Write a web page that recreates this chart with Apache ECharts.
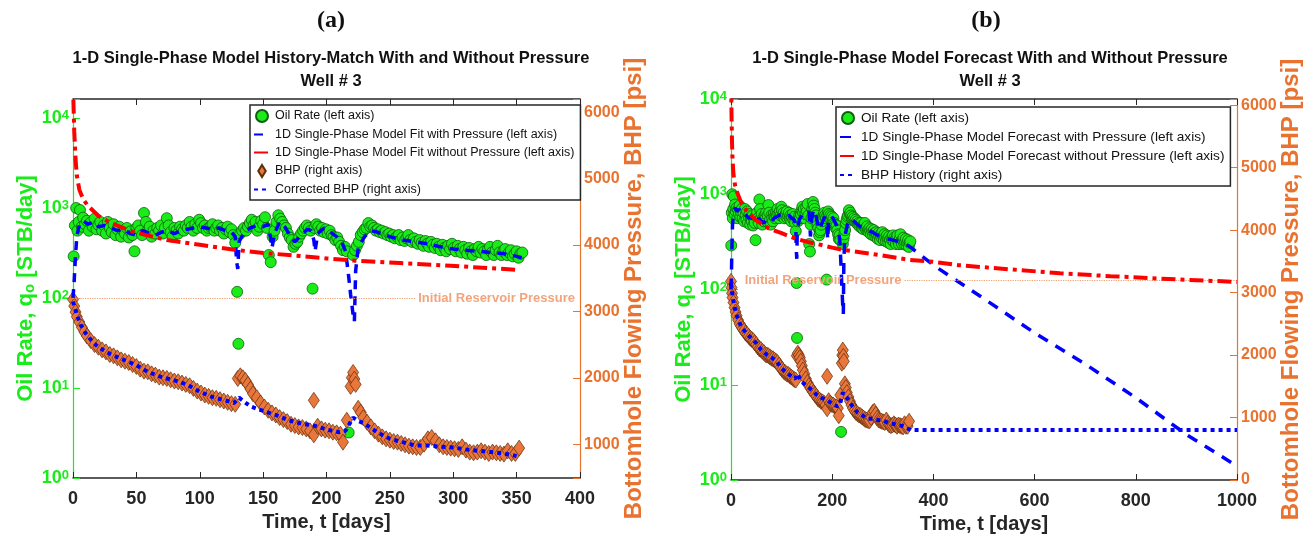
<!DOCTYPE html>
<html>
<head>
<meta charset="utf-8">
<script src="https://cdn.jsdelivr.net/npm/echarts@6/dist/echarts.min.js"></script>
<style>
html, body { margin: 0; padding: 0; background: #fff; }
#main { width: 1305px; height: 541px; }
</style>
</head>
<body>
<div id="main"></div>
<script>
// oil rate history [day, STB/day] (same data in both panels)
var oilRate = [
  [0.5,290],[1.5,640],[2.5,1000],[3.5,560],[4.5,700],[5.5,950],[7,620],[8,780],[9.5,660],[11,720],
  [12.5,560],[14,690],[15.5,620],[17,760],[18.5,580],[20,650],[21.5,700],[23,560],[24.5,640],[26,520],
  [27.5,700],[29,600],[30.5,540],[32,660],[33.5,500],[35,580],[36.5,620],[38,480],[39.5,560],[41,520],
  [42.5,600],[44,470],[45.5,550],[47,500],[48.5,330],[50,600],[51.5,640],[53,560],[54.5,500],[56,880],
  [57.5,700],[59,560],[60.5,620],[62,480],[63.5,560],[65,520],[66.5,600],[68,560],[69.5,640],[71,520],
  [72.5,600],[74,770],[75.5,640],[77,540],[78.5,480],[80,600],[81.5,560],[83,520],[84.5,620],[86,580],
  [87.5,560],[89,640],[90.5,600],[92,700],[93.5,620],[95,560],[96.5,660],[98,600],[99.5,740],[101,680],
  [102.5,600],[104,640],[105.5,560],[107,600],[108.5,620],[110,660],[111.5,560],[113,600],[114.5,640],[116,560],
  [117.5,600],[119,520],[120.5,580],[122,620],[123.5,540],[125,580],[126.5,500],[128,410],[129.5,117],[130.5,31],
  [132,520],[133.5,560],[135,600],[136.5,560],[138,620],[139.5,680],[141,740],[142.5,640],[144,700],[145.5,560],
  [147,620],[148.5,720],[150,660],[151.5,790],[153,600],[154.5,300],[156,250],[157.5,480],[159,560],[160.5,700],
  [162,830],[163.5,760],[165,700],[166.5,640],[168,600],[169.5,520],[171,470],[172.5,440],[174,370],[175.5,400],
  [177,420],[178.5,480],[180,520],[181.5,560],[183,600],[184.5,640],[186,600],[187.5,560],[189,127],[190.5,600],
  [192,660],[193.5,620],[195,560],[196.5,600],[198,540],[199.5,580],[201,520],[202.5,560],[204,500],[205.5,480],
  [207,440],[208.5,470],[210,420],[211.5,380],[213,340],[214.5,370],[216,330],[217.5,3.2],[221,300],[222.5,340],
  [224,380],[225.5,420],[227,500],[228.5,540],[230,580],[231.5,600],[233,680],[234.5,620],[236,640],[237.5,600],
  [239,560],[240.5,580],[242,540],[243.5,560],[245,520],[246.5,540],[248,500],[249.5,520],[251,480],[252.5,500],
  [254,460],[255.5,480],[257,500],[258.5,440],[260,470],[261.5,430],[263,460],[264.5,500],[266,440],[267.5,420],
  [269,460],[270.5,420],[272,400],[273.5,440],[275,410],[276.5,380],[278,430],[279.5,400],[281,370],[282.5,420],
  [284,390],[285.5,360],[287,400],[288.5,370],[290,340],[291.5,390],[293,360],[294.5,330],[296,380],[297.5,350],
  [299,400],[300.5,360],[302,330],[303.5,380],[305,350],[306.5,320],[308,370],[309.5,340],[311,310],[312.5,360],
  [314,330],[315.5,300],[317,350],[318.5,330],[320,370],[321.5,320],[323,350],[324.5,330],[326,300],[327.5,350],
  [329,370],[330.5,320],[332,300],[333.5,340],[335,380],[336.5,320],[338,300],[339.5,330],[341,350],[342.5,300],
  [344,320],[345.5,340],[347,290],[348.5,310],[350,330],[351.5,280],[353,310],[354.5,320]
];

// model with pressure, history part [day, STB/day]
var fitWithPressure = [
  [0,100],[1,160],[2,300],[3,480],[5,650],[8,720],[12,660],[16,700],[20,620],[25,640],[30,600],[35,560],
  [40,580],[45,520],[50,500],[55,560],[60,520],[65,500],[70,540],[75,560],[80,520],[85,560],[90,580],
  [95,600],[100,620],[105,600],[110,580],[115,600],[120,560],[125,540],[128,480],[129,260],[130,210],
  [131,420],[135,540],[140,600],[145,640],[150,620],[154,660],[156,450],[157,360],[159,520],[163,700],
  [167,620],[171,500],[175,420],[180,500],[185,580],[188,560],[190,440],[191,330],[193,520],[198,600],
  [203,540],[208,480],[212,420],[215,330],[217,200],[219,110],[221,65],[222,55],[223,200],[225,360],
  [230,480],[235,560],[240,540],[250,480],[260,440],[270,420],[280,400],[290,370],[300,350],[310,340],
  [320,330],[330,320],[340,310],[350,290],[354,280]
];
// forecast with pressure beyond history
var forecastWithPressure = [
  [370,240],[400,180],[450,120],[500,80],[600,35],[700,16.5],[800,7.3],[900,3.0],[1000,1.4]
];

// model without pressure [day, STB/day]
var fitWithoutPressure = [
  [0.3,16000],[1,7000],[2,3500],[3,2300],[5,1600],[8,1250],[12,1050],[20,820],[30,680],[48,540],
  [74,440],[100,390],[126,345],[152,315],[179,293],[200,275],[219,262],[258,245],[298,228],[352,205]
];
var forecastWithoutPressure = [
  [400,195],[450,180],[550,163],[650,148],[750,138],[850,130],[1000,120]
];

// bottomhole flowing pressure [day, psi]
var bhp = [
  [0,3180],[1,3080],[2,2990],[3,2920],[5,2840],[7,2760],[9,2690],[11,2630],[14,2560],[17,2500],
  [20,2460],[23,2420],[26,2390],[29,2350],[32,2330],[35,2300],[38,2270],[41,2250],[44,2230],[47,2200],
  [50,2170],[53,2130],[56,2100],[59,2090],[62,2060],[65,2040],[68,2010],[71,2000],[74,1990],[77,1970],
  [80,1950],[83,1940],[86,1920],[89,1900],[92,1880],[95,1840],[98,1800],[101,1770],[104,1740],[107,1720],
  [110,1700],[113,1690],[116,1670],[119,1650],[122,1630],[125,1610],[128,1600],[130,1990],[132,2030],[134,2000],
  [136,1960],[138,1900],[140,1830],[142,1760],[145,1700],[148,1620],[151,1560],[154,1510],[157,1470],[160,1440],
  [163,1400],[166,1370],[169,1340],[172,1300],[175,1280],[178,1260],[181,1250],[184,1230],[187,1200],[190,1660],
  [190,1140],[193,1270],[196,1230],[199,1210],[202,1200],[205,1180],[208,1170],[211,1150],[213,1030],[216,1360],
  [219,1870],[220,2000],[221,2080],[222,1980],[223,1900],[225,1540],[227,1480],[229,1400],[232,1330],[235,1260],
  [238,1200],[241,1150],[244,1110],[247,1080],[250,1060],[253,1040],[256,1030],[259,1010],[262,990],[265,970],
  [268,960],[271,950],[274,950],[277,1000],[280,1080],[283,1100],[286,1050],[289,990],[292,960],[295,950],
  [298,940],[301,930],[304,920],[307,960],[310,910],[313,880],[316,870],[319,880],[322,900],[325,880],
  [328,860],[331,880],[334,870],[337,860],[340,850],[343,900],[346,860],[349,860],[352,940]
];
var correctedBhp = [
  [0,3150],[3,2950],[6,2800],[10,2670],[15,2550],[20,2460],[30,2350],[40,2270],[50,2190],[60,2080],
  [70,2010],[80,1960],[90,1900],[100,1790],[110,1710],[120,1660],[127,1620],[131,1700],[135,1640],[140,1570],
  [150,1500],[160,1440],[170,1360],[180,1310],[190,1280],[200,1220],[210,1180],[215,1200],[218,1300],[221,1400],
  [225,1350],[230,1310],[240,1180],[250,1080],[260,1030],[270,980],[280,980],[290,960],[300,950],[310,920],
  [320,900],[330,880],[340,860],[350,820]
];
var bhpHistoryForecast = [[355,800],[1000,800]];

var initialPressure = 3200;

var namesA = [
  'Oil Rate (left axis)',
  '1D Single-Phase Model Fit with Pressure (left axis)',
  '1D Single-Phase Model Fit without Pressure (left axis)',
  'BHP (right axis)',
  'Corrected BHP (right axis)'
];
var namesB = [
  'Oil Rate (left axis)',
  '1D Single-Phase Model Forecast with Pressure (left axis)',
  '1D Single-Phase Model Forecast without Pressure (left axis)',
  'BHP History (right axis)'
];

var FONT = "'Liberation Sans', Arial, sans-serif";
var GREEN = '#19ec19';
var ORANGE = '#e8722e';
var DARK = '#262626';

function xBottom(grid, max, interval) {
  return {
    type: 'value', gridIndex: grid, min: 0, max: max, interval: interval,
    name: 'Time, t [days]', nameLocation: 'middle', nameGap: 33,
    nameTextStyle: { fontFamily: FONT, fontSize: 20, fontWeight: 'bold', color: DARK },
    axisLine: { show: true, onZero: false, lineStyle: { color: DARK, width: 1.5 } },
    axisTick: { inside: true, length: 6, lineStyle: { color: DARK } },
    axisLabel: {
      fontFamily: FONT, fontSize: 18, fontWeight: 'bold', color: DARK, margin: 12,
      formatter: function (v) { return String(v); }
    },
    splitLine: { show: false }
  };
}
function xTop(grid, max, interval) {
  return {
    type: 'value', gridIndex: grid, position: 'top', min: 0, max: max, interval: interval,
    axisLine: { show: true, onZero: false, lineStyle: { color: DARK, width: 1.5 } },
    axisTick: { inside: true, length: 6, lineStyle: { color: DARK } },
    axisLabel: { show: false },
    splitLine: { show: false }
  };
}
function yLog(grid, max) {
  return {
    type: 'log', gridIndex: grid, min: 1, max: max, logBase: 10, interval: 1,
    name: '{a|Oil Rate, q}{s|o}{a| [STB/day]}', nameLocation: 'middle', nameRotate: 90,
    nameGap: 36, nameMoveOverlap: false,
    nameTextStyle: {
      rich: {
        a: { fontFamily: FONT, fontSize: 22, fontWeight: 'bold', color: GREEN },
        s: { fontFamily: FONT, fontSize: 15, fontWeight: 'bold', color: GREEN, verticalAlign: 'bottom' }
      }
    },
    axisLine: { show: true, onZero: false, lineStyle: { color: GREEN, width: 1.2 } },
    axisTick: { show: true, inside: true, length: 7, lineStyle: { color: GREEN } },
    axisLabel: {
      margin: 4,
      formatter: function (v) {
        var l = Math.log(v) / Math.LN10;
        var e = Math.round(l);
        if (Math.abs(l - e) > 1e-6) return '';
        return '{b|10}{e|' + e + '}';
      },
      rich: {
        b: { fontFamily: FONT, fontSize: 18, fontWeight: 'bold', color: GREEN },
        e: { fontFamily: FONT, fontSize: 13, fontWeight: 'bold', color: GREEN, verticalAlign: 'top' }
      }
    },
    splitLine: { show: false }
  };
}
function yRight(grid, min, max) {
  return {
    type: 'value', gridIndex: grid, position: 'right', min: min, max: max,
    name: 'Bottomhole Flowing Pressure, BHP [psi]', nameLocation: 'middle', nameRotate: 90,
    nameGap: 42, nameMoveOverlap: false,
    nameTextStyle: { fontFamily: FONT, fontSize: 24, fontWeight: 'bold', color: ORANGE },
    axisLine: { show: true, onZero: false, lineStyle: { color: ORANGE, width: 1.2 } },
    axisTick: { show: true, inside: true, length: 7, lineStyle: { color: ORANGE } },
    axisLabel: {
      fontFamily: FONT, fontSize: 16, fontWeight: 'bold', color: ORANGE, margin: 4,
      formatter: function (v) { return v % 1000 === 0 ? String(v) : ''; }
    },
    splitLine: { show: false }
  };
}

function oilSeries(x, y) {
  return {
    name: namesA[0], type: 'scatter', xAxisIndex: x, yAxisIndex: y, data: oilRate,
    symbol: 'circle', symbolSize: 11, z: 2,
    itemStyle: { color: GREEN, borderColor: '#0d5e0d', borderWidth: 0.8, opacity: 1 }
  };
}
function bhpSeries(x, y, markFrom, markTo, labelPos) {
  return {
    name: 'BHP (right axis)', type: 'scatter', xAxisIndex: x, yAxisIndex: y, data: bhp,
    symbol: 'diamond', symbolSize: [11, 16], z: 3,
    itemStyle: { color: '#e9773b', borderColor: '#5e2d0c', borderWidth: 0.7, opacity: 1 },
    markLine: {
      silent: true, symbol: 'none', animation: false,
      lineStyle: { type: 'dotted', color: '#f0a070', width: 1.2 },
      label: {
        show: true, position: labelPos, distance: 3, formatter: 'Initial Reservoir Pressure',
        fontFamily: FONT, fontSize: 13, fontWeight: 'bold', color: '#f3a47c'
      },
      data: [[{ coord: [markFrom, initialPressure] }, { coord: [markTo, initialPressure] }]]
    }
  };
}
function lineSeries(name, x, y, data, color, width, dash, z) {
  return {
    name: name, type: 'line', xAxisIndex: x, yAxisIndex: y, data: data,
    symbol: 'none', z: z, clip: true,
    itemStyle: { color: color },
    lineStyle: { color: color, width: width, type: dash }
  };
}
function legendBox(names, left, top, gap, size) {
  var data = names.map(function (n) {
    if (n.indexOf('Oil Rate') === 0) return { name: n };
    if (n.indexOf('BHP (') === 0) return { name: n, icon: 'path://M5,0L10,8L5,16L0,8Z' };
    return { name: n, itemStyle: { opacity: 0 } };
  });
  return {
    data: data, orient: 'vertical', left: left, top: top, z: 20,
    itemWidth: 16, itemHeight: 12, itemGap: gap,
    padding: [4, 6, 4, 3],
    borderColor: DARK, borderWidth: 1.5, backgroundColor: '#fff',
    textStyle: { fontFamily: FONT, fontSize: size, color: '#111' }
  };
}

var chart = echarts.init(document.getElementById('main'));
chart.setOption({
  animation: false,
  backgroundColor: '#fff',
  title: [
    { text: '(a)', left: 326, top: 4, textAlign: 'center',
      textStyle: { fontFamily: "'Liberation Serif', serif", fontSize: 24, fontWeight: 'bold', color: '#111' } },
    { text: '(b)', left: 981, top: 4, textAlign: 'center',
      textStyle: { fontFamily: "'Liberation Serif', serif", fontSize: 24, fontWeight: 'bold', color: '#111' } },
    { text: '1-D Single-Phase Model History-Match With and Without Pressure\nWell # 3', left: 326, top: 42, textAlign: 'center',
      textStyle: { fontFamily: FONT, fontSize: 16.5, fontWeight: 'bold', color: '#111', lineHeight: 23 } },
    { text: '1-D Single-Phase Model Forecast With and Without Pressure\nWell # 3', left: 985, top: 42, textAlign: 'center',
      textStyle: { fontFamily: FONT, fontSize: 16.5, fontWeight: 'bold', color: '#111', lineHeight: 23 } }
  ],
  legend: [
    legendBox(namesA, 250, 105, 5, 12.5),
    legendBox(namesB, 836, 107, 5, 13.6)
  ],
  grid: [
    { left: 73, right: 725, top: 99, bottom: 63 },
    { left: 731, right: 68, top: 99, bottom: 61 }
  ],
  xAxis: [
    xBottom(0, 400, 50), xTop(0, 400, 50),
    xBottom(1, 1000, 200), xTop(1, 1000, 200)
  ],
  yAxis: [
    yLog(0, 16250), yRight(0, 490, 6200),
    yLog(1, 10000), yRight(1, 0, 6100)
  ],
  series: [
    oilSeries(0, 0),
    lineSeries(namesA[1], 0, 0, fitWithPressure, '#0000ff', 3.5, [9, 7], 4),
    lineSeries(namesA[2], 0, 0, fitWithoutPressure, '#ff0000', 4, [14, 5, 4, 5], 5),
    bhpSeries(0, 1, 0, 270, 'end'),
    lineSeries(namesA[4], 0, 1, correctedBhp, '#0000ff', 4, [4, 4], 6),

    oilSeries(2, 2),
    lineSeries(namesB[1], 2, 2, fitWithPressure.concat(forecastWithPressure), '#0000ff', 3.5, [11, 9], 4),
    lineSeries(namesB[2], 2, 2, fitWithoutPressure.concat(forecastWithoutPressure), '#ff0000', 4, [14, 5, 4, 5], 5),
    bhpSeries(2, 3, 343, 1000, 'start'),
    lineSeries(namesB[3], 2, 3, correctedBhp.concat(bhpHistoryForecast), '#0000ff', 4, [4, 4], 6)
  ]
});
</script>
</body>
</html>
